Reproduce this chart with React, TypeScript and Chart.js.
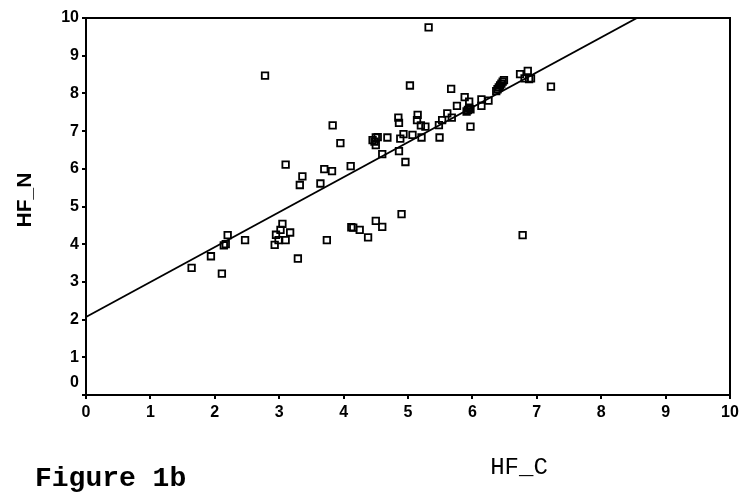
import React, { useEffect, useRef } from 'react';
import { Chart, registerables } from 'chart.js';

Chart.register(...registerables);

const hfC = [
  1.64, 1.94, 2.11, 2.14, 2.17, 2.2, 2.47, 2.78, 2.93, 2.95, 2.99, 3.02, 3.05, 3.1, 3.17, 3.29,
  3.1, 3.32, 3.36, 3.64, 3.7, 3.74, 3.82, 3.83, 3.95, 4.11, 4.12, 4.15, 4.25, 4.38, 4.45, 4.48,
  4.5, 4.53, 4.5, 4.5, 4.6, 4.6, 4.68, 4.85, 4.86, 4.86, 4.88, 4.9, 4.93, 4.96, 5.03, 5.07,
  5.14, 5.15, 5.2, 5.21, 5.27, 5.32, 5.48, 5.49, 5.53, 5.61, 5.67, 5.68, 5.76, 5.88, 5.95, 5.91,
  5.93, 5.95, 5.97, 5.97, 6.14, 6.14, 6.25, 6.37, 6.39, 6.41, 6.43, 6.45, 6.47, 6.49, 6.74, 6.78,
  6.81, 6.86, 6.88, 6.91, 7.22,
];
const hfN = [
  3.37, 3.68, 3.22, 3.97, 4.0, 4.24, 4.11, 8.47, 3.98, 4.25, 4.11, 4.38, 4.54, 4.11, 4.31, 3.62,
  6.11, 5.57, 5.8, 5.61, 5.99, 4.11, 5.94, 7.15, 6.68, 6.07, 4.45, 4.44, 4.38, 4.18, 6.76, 6.72,
  6.83, 6.84, 6.63, 4.62, 4.46, 6.39, 6.83, 7.36, 7.22, 6.47, 6.8, 4.8, 6.92, 6.18, 8.21, 6.9,
  7.29, 7.43, 7.15, 6.83, 7.12, 9.75, 7.16, 6.83, 7.29, 7.47, 8.12, 7.36, 7.67, 7.9, 7.78, 7.52,
  7.56, 7.62, 7.58, 7.12, 7.84, 7.67, 7.81, 8.06, 8.11, 8.16, 8.21, 8.26, 8.31, 8.35, 8.51, 4.24,
  8.4, 8.6, 8.38, 8.4, 8.18,
];

// Fitted regression line end points
const fitX = [0, 10];
const fitY = [2.07, 11.34];

// Axis ranges
const xRange = [0, 10];
const yRange = [0, 10];

const yTitle = 'HF_N';
const xTitle = 'HF_C';
const figLabel = 'Figure 1b';

export default function App() {
  const ref = useRef<HTMLCanvasElement | null>(null);

  useEffect(() => {
    if (!ref.current) return;

    const framePlugin = {
      id: 'frame',
      afterDatasetsDraw(chart: any) {
        const { ctx, chartArea: a } = chart;
        ctx.save();
        ctx.strokeStyle = '#000';
        ctx.lineWidth = 2;
        ctx.strokeRect(a.left, a.top, a.right - a.left, a.bottom - a.top);
        ctx.restore();
      },
    };

    const textPlugin = {
      id: 'texts',
      afterDraw(chart: any) {
        const { ctx } = chart;
        ctx.save();
        ctx.fillStyle = '#000';
        ctx.translate(25, 200);
        ctx.rotate(-Math.PI / 2);
        ctx.font = 'bold 21px "Liberation Sans", Arial, sans-serif';
        ctx.textAlign = 'center';
        ctx.textBaseline = 'middle';
        ctx.fillText(yTitle, 0, 0);
        ctx.restore();

        ctx.save();
        ctx.fillStyle = '#000';
        ctx.font = '24px "Liberation Mono", "Courier New", monospace';
        ctx.textAlign = 'center';
        ctx.textBaseline = 'alphabetic';
        ctx.fillText(xTitle, 519, 474);
        ctx.font = 'bold 28px "Liberation Mono", "Courier New", monospace';
        ctx.textAlign = 'left';
        ctx.fillText(figLabel, 35, 486);
        ctx.restore();
      },
    };

    const tickFont = { family: '"Liberation Sans", Arial, sans-serif', size: 16, weight: 'bold' as const };

    const chart = new Chart(ref.current, {
      type: 'scatter',
      data: {
        datasets: [
          {
            label: 'data',
            data: hfC.map((x, i) => ({ x, y: hfN[i] })),
            pointStyle: 'rect',
            pointRadius: 4.6,
            pointBorderWidth: 1.8,
            borderColor: '#000',
            backgroundColor: 'rgba(255,255,255,0)',
          },
          {
            label: 'fit',
            type: 'line',
            data: fitX.map((x, i) => ({ x, y: fitY[i] })),
            showLine: true,
            borderColor: '#000',
            borderWidth: 1.8,
            pointRadius: 0,
            fill: false,
          },
        ],
      },
      options: {
        animation: false,
        responsive: true,
        maintainAspectRatio: false,
        layout: { padding: { left: 0, top: 18, right: 13, bottom: 0 } },
        plugins: { legend: { display: false }, tooltip: { enabled: false } },
        scales: {
          x: {
            type: 'linear',
            min: xRange[0],
            max: xRange[1],
            afterFit: (s: any) => {
              s.height = 98;
            },
            ticks: { stepSize: 1, autoSkip: false, color: '#000', font: tickFont, padding: 4 },
            grid: { drawOnChartArea: false, drawTicks: true, tickLength: 4, color: '#000', lineWidth: 2 },
            border: { display: true, color: '#000', width: 2 },
          },
          y: {
            type: 'linear',
            min: yRange[0],
            max: yRange[1],
            afterFit: (s: any) => {
              s.width = 86;
            },
            ticks: {
              stepSize: 1,
              autoSkip: false,
              color: '#000',
              font: { ...tickFont, lineHeight: 1.6 },
              padding: 3,
              callback: (v: any) => (v === 0 ? ['0', ''] : String(v)),
            },
            grid: { drawOnChartArea: false, drawTicks: true, tickLength: 4, color: '#000', lineWidth: 2 },
            border: { display: true, color: '#000', width: 2 },
          },
        },
      },
      plugins: [framePlugin, textPlugin],
    });

    return () => chart.destroy();
  }, []);

  return (
    <div style={{ position: 'absolute', left: 0, top: 0, width: 743, height: 493, background: '#fff' }}>
      <canvas ref={ref} />
    </div>
  );
}
